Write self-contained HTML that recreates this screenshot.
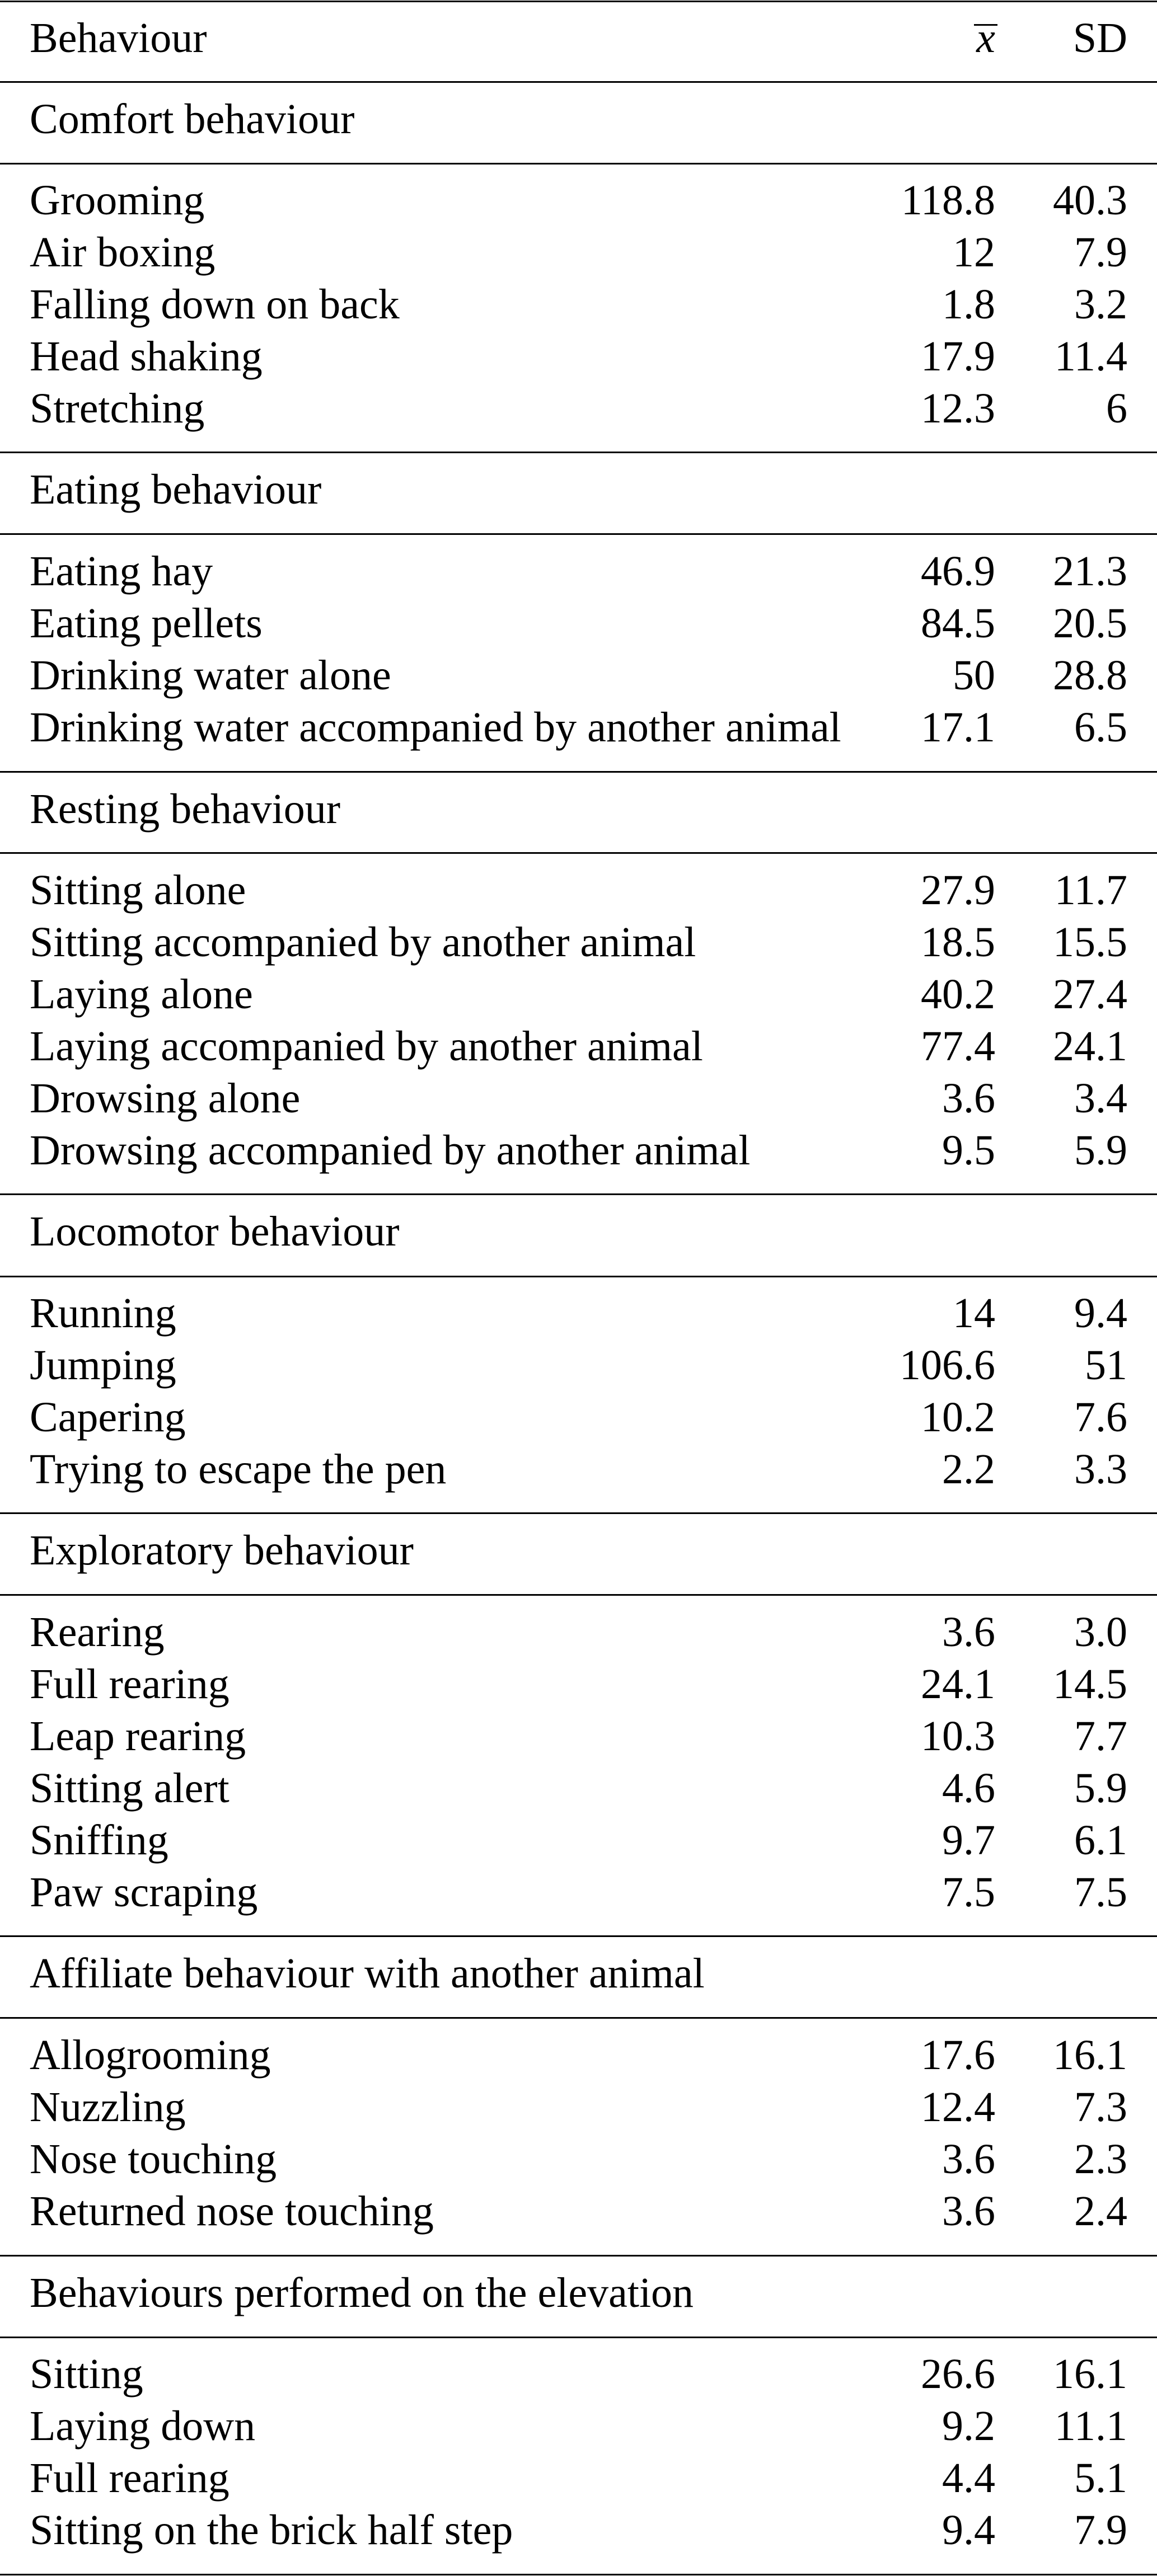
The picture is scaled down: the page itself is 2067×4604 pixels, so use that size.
<!DOCTYPE html>
<html><head><meta charset="utf-8"><style>
html,body{margin:0;padding:0;background:#fff;}
svg{display:block;}
text{font-family:"Liberation Serif","Times New Roman",serif;font-size:76px;fill:#000;}
.r{text-anchor:end;}
</style></head><body>
<svg width="2067" height="4604" viewBox="0 0 2067 4604" xmlns="http://www.w3.org/2000/svg">
<rect x="0" y="0" width="2067" height="4604" fill="#fff"/>
<g fill="#000">
<rect x="0" y="1" width="2067" height="3"/>
<rect x="0" y="145" width="2067" height="3"/>
<rect x="0" y="291" width="2067" height="3"/>
<rect x="0" y="807" width="2067" height="3"/>
<rect x="0" y="953" width="2067" height="3"/>
<rect x="0" y="1378" width="2067" height="3"/>
<rect x="0" y="1523" width="2067" height="3"/>
<rect x="0" y="2133" width="2067" height="3"/>
<rect x="0" y="2280" width="2067" height="3"/>
<rect x="0" y="2703" width="2067" height="3"/>
<rect x="0" y="2849" width="2067" height="3"/>
<rect x="0" y="3459" width="2067" height="3"/>
<rect x="0" y="3605" width="2067" height="3"/>
<rect x="0" y="4030" width="2067" height="3"/>
<rect x="0" y="4176" width="2067" height="3"/>
<rect x="0" y="4600" width="2067" height="3"/>
<rect x="1740" y="43" width="42" height="3"/>
</g>
<text x="53" y="93">Behaviour</text>
<text class="r" x="1778" y="93" font-style="italic">x</text>
<text class="r" x="2014" y="93">SD</text>

<text x="53" y="238">Comfort behaviour</text>
<text x="53" y="383">Grooming</text><text class="r" x="1778" y="383">118.8</text><text class="r" x="2014" y="383">40.3</text>
<text x="53" y="476">Air boxing</text><text class="r" x="1778" y="476">12</text><text class="r" x="2014" y="476">7.9</text>
<text x="53" y="569">Falling down on back</text><text class="r" x="1778" y="569">1.8</text><text class="r" x="2014" y="569">3.2</text>
<text x="53" y="662">Head shaking</text><text class="r" x="1778" y="662">17.9</text><text class="r" x="2014" y="662">11.4</text>
<text x="53" y="755">Stretching</text><text class="r" x="1778" y="755">12.3</text><text class="r" x="2014" y="755">6</text>

<text x="53" y="900">Eating behaviour</text>
<text x="53" y="1046">Eating hay</text><text class="r" x="1778" y="1046">46.9</text><text class="r" x="2014" y="1046">21.3</text>
<text x="53" y="1139">Eating pellets</text><text class="r" x="1778" y="1139">84.5</text><text class="r" x="2014" y="1139">20.5</text>
<text x="53" y="1232">Drinking water alone</text><text class="r" x="1778" y="1232">50</text><text class="r" x="2014" y="1232">28.8</text>
<text x="53" y="1325">Drinking water accompanied by another animal</text><text class="r" x="1778" y="1325">17.1</text><text class="r" x="2014" y="1325">6.5</text>

<text x="53" y="1471">Resting behaviour</text>
<text x="53" y="1616">Sitting alone</text><text class="r" x="1778" y="1616">27.9</text><text class="r" x="2014" y="1616">11.7</text>
<text x="53" y="1709">Sitting accompanied by another animal</text><text class="r" x="1778" y="1709">18.5</text><text class="r" x="2014" y="1709">15.5</text>
<text x="53" y="1802">Laying alone</text><text class="r" x="1778" y="1802">40.2</text><text class="r" x="2014" y="1802">27.4</text>
<text x="53" y="1895">Laying accompanied by another animal</text><text class="r" x="1778" y="1895">77.4</text><text class="r" x="2014" y="1895">24.1</text>
<text x="53" y="1988">Drowsing alone</text><text class="r" x="1778" y="1988">3.6</text><text class="r" x="2014" y="1988">3.4</text>
<text x="53" y="2081">Drowsing accompanied by another animal</text><text class="r" x="1778" y="2081">9.5</text><text class="r" x="2014" y="2081">5.9</text>

<text x="53" y="2226">Locomotor behaviour</text>
<text x="53" y="2372">Running</text><text class="r" x="1778" y="2372">14</text><text class="r" x="2014" y="2372">9.4</text>
<text x="53" y="2465">Jumping</text><text class="r" x="1778" y="2465">106.6</text><text class="r" x="2014" y="2465">51</text>
<text x="53" y="2558">Capering</text><text class="r" x="1778" y="2558">10.2</text><text class="r" x="2014" y="2558">7.6</text>
<text x="53" y="2651">Trying to escape the pen</text><text class="r" x="1778" y="2651">2.2</text><text class="r" x="2014" y="2651">3.3</text>

<text x="53" y="2796">Exploratory behaviour</text>
<text x="53" y="2942">Rearing</text><text class="r" x="1778" y="2942">3.6</text><text class="r" x="2014" y="2942">3.0</text>
<text x="53" y="3035">Full rearing</text><text class="r" x="1778" y="3035">24.1</text><text class="r" x="2014" y="3035">14.5</text>
<text x="53" y="3128">Leap rearing</text><text class="r" x="1778" y="3128">10.3</text><text class="r" x="2014" y="3128">7.7</text>
<text x="53" y="3221">Sitting alert</text><text class="r" x="1778" y="3221">4.6</text><text class="r" x="2014" y="3221">5.9</text>
<text x="53" y="3314">Sniffing</text><text class="r" x="1778" y="3314">9.7</text><text class="r" x="2014" y="3314">6.1</text>
<text x="53" y="3407">Paw scraping</text><text class="r" x="1778" y="3407">7.5</text><text class="r" x="2014" y="3407">7.5</text>

<text x="53" y="3552">Affiliate behaviour with another animal</text>
<text x="53" y="3698">Allogrooming</text><text class="r" x="1778" y="3698">17.6</text><text class="r" x="2014" y="3698">16.1</text>
<text x="53" y="3791">Nuzzling</text><text class="r" x="1778" y="3791">12.4</text><text class="r" x="2014" y="3791">7.3</text>
<text x="53" y="3884">Nose touching</text><text class="r" x="1778" y="3884">3.6</text><text class="r" x="2014" y="3884">2.3</text>
<text x="53" y="3977">Returned nose touching</text><text class="r" x="1778" y="3977">3.6</text><text class="r" x="2014" y="3977">2.4</text>

<text x="53" y="4123">Behaviours performed on the elevation</text>
<text x="53" y="4268">Sitting</text><text class="r" x="1778" y="4268">26.6</text><text class="r" x="2014" y="4268">16.1</text>
<text x="53" y="4361">Laying down</text><text class="r" x="1778" y="4361">9.2</text><text class="r" x="2014" y="4361">11.1</text>
<text x="53" y="4454">Full rearing</text><text class="r" x="1778" y="4454">4.4</text><text class="r" x="2014" y="4454">5.1</text>
<text x="53" y="4547">Sitting on the brick half step</text><text class="r" x="1778" y="4547">9.4</text><text class="r" x="2014" y="4547">7.9</text>
</svg>
</body></html>
